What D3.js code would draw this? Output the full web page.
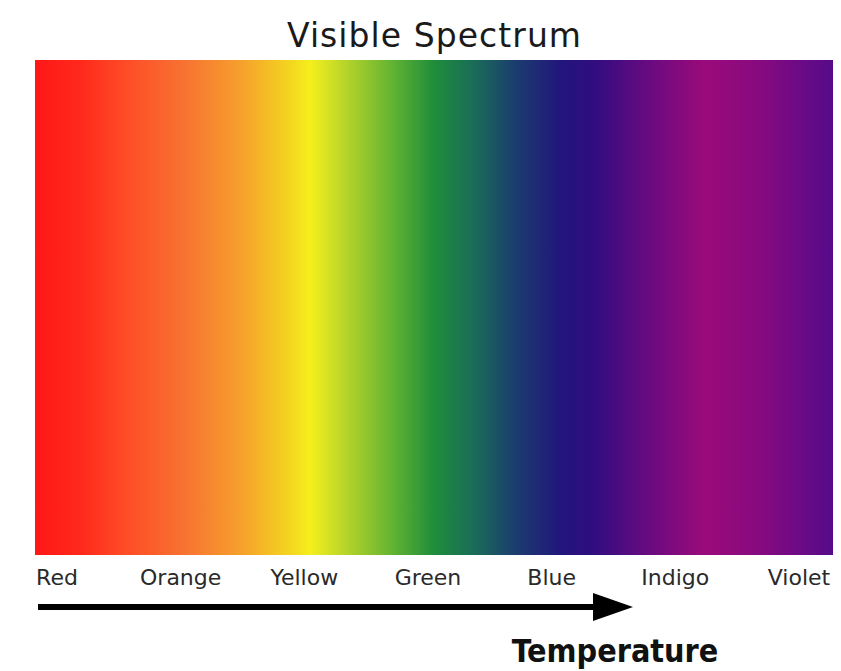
<!DOCTYPE html>
<html>
<head>
<meta charset="utf-8">
<script src="https://cdn.jsdelivr.net/npm/d3@7"></script>
<style>
  body { margin: 0; background: #fff; }
</style>
</head>
<body>
<div id="chart"></div>
<script>
// colour names under the band
var colorNames = ["Red", "Orange", "Yellow", "Green", "Blue", "Indigo", "Violet"];

// gradient stops (0 = left edge, 1 = right edge)
var stopOffsets = [0, 0.06, 0.11, 0.19, 0.26, 0.32, 0.345, 0.39, 0.45, 0.50, 0.55, 0.60, 0.66, 0.70, 0.77, 0.84, 0.91, 1];
var stopColors = ["#ff1717", "#ff2a1c", "#fe4a26", "#f77432", "#f6a12c", "#f3d61f", "#f5ef1c", "#b5d42a",
                  "#5fb232", "#1f8d3b", "#1a6c58", "#1b3e6e", "#22157c", "#300d80", "#6a0a80", "#9b0a7a",
                  "#860a80", "#560a8a"];

var title = "Visible Spectrum";
var axisTitle = "Temperature";

var width = 841, height = 671;
var bandLeft = 35, bandRight = 833, bandTop = 60, bandBottom = 555;

var svg = d3.select("#chart").append("svg")
    .attr("width", width)
    .attr("height", height);

var defs = svg.append("defs");
var grad = defs.append("linearGradient")
    .attr("id", "spec")
    .attr("x1", "0%").attr("x2", "100%")
    .attr("y1", "0%").attr("y2", "0%");

grad.selectAll("stop")
    .data(stopOffsets)
    .enter()
    .append("stop")
    .attr("offset", function (d) { return d; })
    .attr("stop-color", function (d, i) { return stopColors[i]; });

svg.append("rect")
    .attr("x", bandLeft)
    .attr("y", bandTop)
    .attr("width", bandRight - bandLeft)
    .attr("height", bandBottom - bandTop)
    .attr("fill", "url(#spec)");

svg.append("text")
    .attr("x", 434)
    .attr("y", 47)
    .attr("text-anchor", "middle")
    .attr("font-family", "DejaVu Sans")
    .attr("font-size", "33px")
    .attr("textLength", 294)
    .attr("fill", "#1a1a1a")
    .text(title);

// labels, spaced with a point scale
var x = d3.scalePoint()
    .domain(colorNames)
    .range([57, 799]);

svg.selectAll("text.lbl")
    .data(colorNames)
    .enter()
    .append("text")
    .attr("class", "lbl")
    .attr("x", function (d) { return x(d); })
    .attr("y", 585)
    .attr("text-anchor", "middle")
    .attr("font-family", "DejaVu Sans")
    .attr("font-size", "22px")
    .attr("fill", "#2a2a2a")
    .text(function (d) { return d; });

// arrow
defs.append("marker")
    .attr("id", "head")
    .attr("viewBox", "0 0 10 10")
    .attr("preserveAspectRatio", "none")
    .attr("refX", 0)
    .attr("refY", 5)
    .attr("markerUnits", "userSpaceOnUse")
    .attr("markerWidth", 40)
    .attr("markerHeight", 28)
    .attr("orient", "auto")
    .append("path")
    .attr("d", "M0,0L10,5L0,10Z")
    .attr("fill", "#000");

svg.append("line")
    .attr("x1", 38)
    .attr("x2", 593)
    .attr("y1", 607)
    .attr("y2", 607)
    .attr("stroke", "#000")
    .attr("stroke-width", 6)
    .attr("marker-end", "url(#head)");

svg.append("text")
    .attr("x", 615)
    .attr("y", 662)
    .attr("text-anchor", "middle")
    .attr("font-family", "DejaVu Sans Condensed, DejaVu Sans")
    .attr("font-weight", "bold")
    .attr("font-size", "32px")
    .attr("fill", "#111")
    .text(axisTitle);
</script>
</body>
</html>
